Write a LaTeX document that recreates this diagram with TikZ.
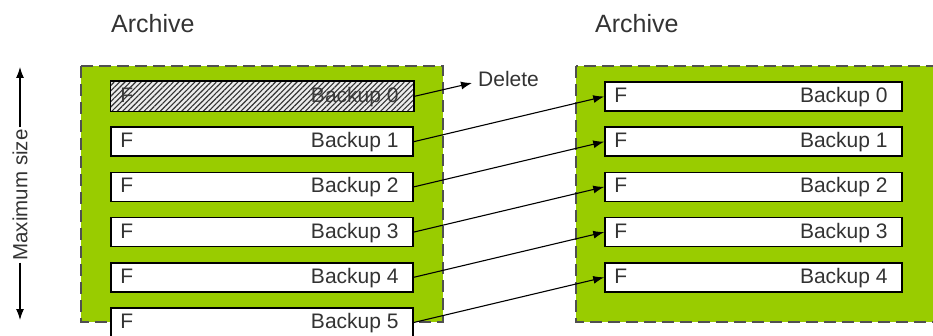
\documentclass[tikz,border=0pt]{standalone}
\usepackage{fontspec}
\setmainfont{Liberation Sans}
\usetikzlibrary{arrows.meta,patterns.meta}
\definecolor{grn}{HTML}{99CC00}
\definecolor{txt}{HTML}{333333}
\definecolor{dsh}{HTML}{505050}
\begin{document}
\begin{tikzpicture}[x=1pt,y=-1pt,
  archive/.style={fill=grn, draw=dsh, line width=2.2pt, dash pattern=on 12pt off 6pt},
  lbox/.style={draw=black, line width=1.5pt, fill=white, minimum width=302pt, minimum height=29pt, inner sep=0pt},
  rbox/.style={draw=black, line width=1.5pt, fill=white, minimum width=297pt, minimum height=29pt, inner sep=0pt},
  lbl/.style={font=\fontsize{21}{25}\selectfont, text=txt, inner sep=0pt},
  ttl/.style={font=\fontsize{25}{29}\selectfont, text=txt, inner sep=0pt},
  conn/.style={-{Latex[length=11pt,width=8pt]}, line width=1.1pt}]
\useasboundingbox (0,0) rectangle (933,336);
\clip (0,0) rectangle (933,336);
% titles
\node[ttl, anchor=base west] (t1) at (111,33) {Archive};
\node[ttl, anchor=base west] (t2) at (595,33) {Archive};
% archive areas
\draw[archive] (81,66) rectangle (443,322);
\draw[archive] (576,66) rectangle (960,322);
% left boxes
\foreach \i in {0,...,5} {
  \node[lbox] (b\i) at (262,96.5+45.2*\i) {};
}
\foreach \i in {1,...,5} {
  \node[lbl, anchor=base west] (bf\i) at ([xshift=10pt,yshift=-6pt]b\i.west) {F};
  \node[lbl, anchor=base east] (bt\i) at ([xshift=-15pt,yshift=-6pt]b\i.east) {Backup \i};
}
% hatched box 0
\fill[gray!15] (b0.south west) rectangle (b0.north east);
\node[lbl, anchor=base west, text=black!75] (bf0) at ([xshift=10pt,yshift=-6pt]b0.west) {F};
\node[lbl, anchor=base east, text=black!75] (bt0) at ([xshift=-15pt,yshift=-6pt]b0.east) {Backup 0};
\path[pattern={Lines[angle=45,distance=3.8pt,line width=1.1pt]}, pattern color=black!80] (b0.south west) rectangle (b0.north east);
\draw[line width=1.5pt] (b0.south west) rectangle (b0.north east);
% right boxes
\foreach \i in {0,...,4} {
  \node[rbox] (r\i) at (753.5,96.5+45.2*\i) {};
  \node[lbl, anchor=base west] (rf\i) at ([xshift=10pt,yshift=-6pt]r\i.west) {F};
  \node[lbl, anchor=base east] (rt\i) at ([xshift=-15pt,yshift=-6pt]r\i.east) {Backup \i};
}
% delete
\node[lbl, anchor=west, inner sep=6pt] (del) at (472,79) {Delete};
\draw[conn] (b0.east) -- ([yshift=-4pt]del.west);
% shift arrows
\draw[conn] (b1.east) -- (r0.west);
\draw[conn] (b2.east) -- (r1.west);
\draw[conn] (b3.east) -- (r2.west);
\draw[conn] (b4.east) -- (r3.west);
\draw[conn] (b5.east) -- (r4.west);
% maximum size
\node[font=\fontsize{20.5}{24}\selectfont, text=txt, rotate=90, inner sep=2pt] (max) at (20,195) {Maximum size};
\coordinate (mtop) at (20,67);
\coordinate (mbot) at (20,320);
\draw[conn] (max.east) -- (mtop);
\draw[conn] (max.west) -- (mbot);
\end{tikzpicture}
\end{document}
